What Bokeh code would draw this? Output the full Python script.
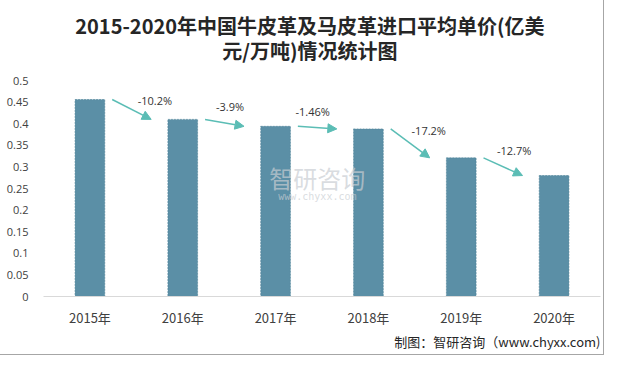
from bokeh.plotting import figure
from bokeh.models import Range1d, FixedTicker, Label, Arrow, NormalHead, ColumnDataSource, Title
from bokeh.embed import file_html
from bokeh.resources import INLINE

years = ["2015年", "2016年", "2017年", "2018年", "2019年", "2020年"]
prices = [0.456, 0.41, 0.394, 0.388, 0.321, 0.28]
changes = ["-10.2%", "-3.9%", "-1.46%", "-17.2%", "-12.7%"]
y_ticks = [0, 0.05, 0.1, 0.15, 0.2, 0.25, 0.3, 0.35, 0.4, 0.45, 0.5]
y_tick_labels = ["0", "0.05", "0.1", "0.15", "0.2", "0.25", "0.3", "0.35", "0.4", "0.45", "0.5"]
title_line1 = "2015-2020年中国牛皮革及马皮革进口平均单价(亿美"
title_line2 = "元/万吨)情况统计图"
source_note = "制图：智研咨询（www.chyxx.com)"
# label anchor positions (data coords) for the change annotations
change_label_x = [0.70, 1.51, 2.40, 3.65, 4.57]
change_label_y = [0.454, 0.44, 0.428, 0.384, 0.338]

xs = list(range(len(years)))

# the frame is extended upward (no grid / no axis line) so the two title lines can live in it
p = figure(width=601, height=352, output_backend="svg", toolbar_location=None,
           x_range=Range1d(-0.5, 5.5), y_range=Range1d(0, 0.6667),
           min_border_left=43, min_border_right=1, min_border_top=8, min_border_bottom=56)
p.title.visible = False
p.outline_line_color = None
p.xgrid.visible = False
p.ygrid.visible = False
p.background_fill_color = "white"
p.border_fill_color = "white"
p.styles = {"outline": "1px solid #A6A6A6", "outline-offset": "2px"}

# two-line title
p.add_layout(Label(x=2.37, y=0.627, text=title_line1, text_align="center", text_baseline="middle",
                   text_font="Noto Sans CJK SC", text_font_size="20px", text_font_style="bold",
                   text_color="#262626"))
p.add_layout(Label(x=2.37, y=0.569, text=title_line2, text_align="center", text_baseline="middle",
                   text_font="Noto Sans CJK SC", text_font_size="20px", text_font_style="bold",
                   text_color="#262626"))

src = ColumnDataSource(dict(x=xs, top=prices))
p.vbar(x="x", top="top", width=0.32, source=src, fill_color="#5B8FA6",
       line_color="#4C7F96", line_width=0.6, line_dash="2 1")

# axes
p.xaxis.ticker = FixedTicker(ticks=xs)
p.xaxis.major_label_overrides = {i: y for i, y in enumerate(years)}
p.xaxis.axis_line_color = "#D9D9D9"
p.xaxis.major_tick_line_color = None
p.xaxis.minor_tick_line_color = None
p.xaxis.major_label_standoff = 5
p.xaxis.major_label_text_font = "Noto Sans CJK SC"
p.xaxis.major_label_text_font_size = "13px"
p.xaxis.major_label_text_color = "#404040"

p.yaxis.ticker = FixedTicker(ticks=y_ticks)
p.yaxis.major_label_overrides = {t: l for t, l in zip(y_ticks, y_tick_labels)}
p.yaxis.axis_line_color = None
p.yaxis.major_tick_line_color = None
p.yaxis.minor_tick_line_color = None
p.yaxis.major_label_standoff = 9
p.yaxis.major_label_text_font = "Open Sans"
p.yaxis.major_label_text_font_size = "11px"
p.yaxis.major_label_text_color = "#404040"

# source note
p.add_layout(Title(text=source_note, align="right", text_font="Noto Sans CJK SC",
                   text_font_size="13px", text_font_style="normal", text_color="#262626",
                   standoff=0), "below")

# arrows and change labels
for i, ch in enumerate(changes):
    p.add_layout(Arrow(x_start=i + 0.24, y_start=prices[i], x_end=i + 0.66, y_end=prices[i + 1],
                       line_color="#5BBDB5", line_width=1.5,
                       end=NormalHead(size=9, fill_color="#5BBDB5", line_color="#5BBDB5")))
    p.add_layout(Label(x=change_label_x[i], y=change_label_y[i], text=ch,
                       text_align="center", text_baseline="middle",
                       text_font="Open Sans", text_font_size="11px", text_color="#333333"))

# watermark
p.add_layout(Label(x=2.45, y=0.275, text="智研咨询", text_align="center", text_baseline="middle",
                   text_font="Noto Sans CJK SC", text_font_size="24px", text_color="#C8CDD2",
                   text_alpha=0.7))
p.add_layout(Label(x=2.45, y=0.232, text="www.chyxx.com", text_align="center", text_baseline="middle",
                   text_font="DejaVu Sans Mono", text_font_size="10px", text_color="#C8CDD2",
                   text_alpha=0.7))

open("out.html", "w").write(file_html(p, INLINE))
